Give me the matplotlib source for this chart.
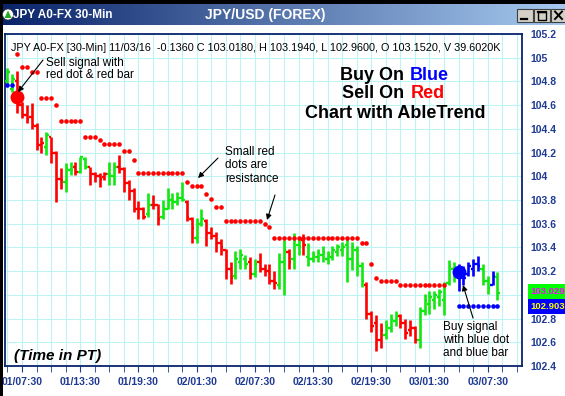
import numpy as np
import matplotlib
matplotlib.use('Agg')
import matplotlib.pyplot as plt
from matplotlib.patches import Rectangle, Circle, Polygon

plt.rcParams['font.family'] = ['Liberation Sans', 'DejaVu Sans']

W, H = 565, 396
nan = np.nan

#*---------- ----------
#*    bar data (30-min bars, JPY A0-FX)
#*---------- ----------
highs = [104.91, 104.86, 104.89, 104.63, 104.60, 104.62, 104.45, 104.33, 104.37, 104.33,
         104.21, 104.07, 104.11, 104.12, 104.12, 104.16, 104.16, 104.08, 104.04, 104.03,
         104.04, 104.12, 104.12, 104.18, 104.08, 103.97, 103.90, 103.79, 103.74, 103.86,
         103.84, 103.77, 103.80, 103.90, 103.86, 103.87, 103.95, 103.80, 103.66, 103.65,
         103.72, 103.64, 103.57, 103.53, 103.47, 103.39, 103.28, 103.37, 103.39, 103.34,
         103.32, 103.30, 103.35, 103.26, 103.26, 103.20, 103.35, 103.46, 103.39, 103.52,
         103.47, 103.51, 103.44, 103.37, 103.39, 103.41, 103.37, 103.41, 103.43, 103.45,
         103.47, 103.45, 103.41, 103.28, 103.11, 102.86, 102.83, 102.76, 102.79, 102.84,
         102.86, 102.84, 102.80, 102.79, 102.74, 102.90, 103.01, 103.03, 103.03, 103.05,
         103.11, 103.29, 103.28, 103.26, 103.24, 103.28, 103.30, 103.33, 103.26, 103.16,
         103.20, 103.194]
lows = [104.78, 104.71, 104.53, 104.49, 104.45, 104.40, 104.22, 104.20, 104.18, 104.11,
        103.78, 103.89, 103.87, 104.01, 104.01, 104.03, 104.06, 103.93, 103.95, 103.91,
        103.97, 103.93, 103.93, 104.03, 103.87, 103.80, 103.70, 103.64, 103.64, 103.66,
        103.72, 103.59, 103.64, 103.72, 103.72, 103.76, 103.79, 103.62, 103.44, 103.44,
        103.58, 103.41, 103.47, 103.36, 103.34, 103.13, 103.09, 103.13, 103.22, 103.22,
        103.13, 103.15, 103.19, 103.16, 103.09, 103.05, 103.05, 103.00, 103.22, 103.22,
        103.34, 103.34, 103.24, 103.28, 103.28, 103.28, 103.26, 103.29, 103.33, 103.33,
        103.11, 103.21, 103.16, 103.07, 102.80, 102.69, 102.53, 102.55, 102.63, 102.69,
        102.74, 102.72, 102.63, 102.65, 102.59, 102.55, 102.83, 102.84, 102.88, 102.91,
        102.83, 103.08, 103.11, 103.03, 103.08, 103.16, 103.16, 103.20, 103.08, 103.01,
        103.08, 102.960]
opens = [104.80, 104.74, 104.80, 104.60, 104.52, 104.50, 104.42, 104.26, 104.25, 104.33,
         104.20, 103.98, 103.95, 104.05, 104.08, 104.04, 104.15, 104.08, 104.02, 104.00,
         103.99, 104.02, 104.00, 104.08, 104.06, 103.94, 103.88, 103.72, 103.72, 103.68,
         103.76, 103.76, 103.66, 103.72, 103.80, 103.78, 103.82, 103.78, 103.64, 103.48,
         103.60, 103.62, 103.52, 103.50, 103.44, 103.38, 103.22, 103.16, 103.28, 103.30,
         103.28, 103.18, 103.28, 103.22, 103.20, 103.12, 103.08, 103.28, 103.36, 103.30,
         103.42, 103.46, 103.32, 103.30, 103.32, 103.34, 103.30, 103.32, 103.36, 103.38,
         103.42, 103.30, 103.38, 103.24, 103.08, 102.84, 102.76, 102.62, 102.66, 102.72,
         102.78, 102.82, 102.76, 102.70, 102.72, 102.62, 102.86, 102.92, 102.96, 102.98,
         102.96, 103.10, 103.22, 103.18, 103.20, 103.18, 103.22, 103.26, 103.22, 103.12,
         103.08, 103.152]
closes = [104.88, 104.82, 104.60, 104.52, 104.48, 104.43, 104.26, 104.28, 104.35, 104.20,
          103.98, 103.97, 104.07, 104.05, 104.04, 104.16, 104.08, 104.02, 104.00, 103.98,
          104.02, 104.00, 104.08, 104.06, 103.94, 103.88, 103.72, 103.72, 103.66, 103.76,
          103.76, 103.64, 103.72, 103.80, 103.78, 103.82, 103.80, 103.66, 103.56, 103.60,
          103.64, 103.52, 103.50, 103.44, 103.40, 103.22, 103.14, 103.30, 103.34, 103.26,
          103.18, 103.26, 103.22, 103.20, 103.12, 103.10, 103.28, 103.38, 103.28, 103.46,
          103.40, 103.42, 103.30, 103.34, 103.35, 103.36, 103.33, 103.38, 103.40, 103.40,
          103.30, 103.40, 103.26, 103.12, 102.84, 102.74, 102.62, 102.70, 102.74, 102.80,
          102.82, 102.76, 102.68, 102.72, 102.62, 102.86, 102.96, 102.98, 103.00, 103.02,
          103.08, 103.24, 103.18, 103.20, 103.14, 103.24, 103.26, 103.24, 103.12, 103.06,
          103.16, 103.018]
# AbleTrend bar colour: G green, R red, B blue
bar_color = ("GGRRRRRRGR" "RRGGRGGRRR" "RGGRRRRRRG" "RRGGGGGRRG" "GRRRRRRGGG"
             "RGRRRRGGRG" "GRGGGGGGGG" "GGGGRRRRGG" "GRRRRGGGGG" "GGGBBBBBGG" "BG")

# small red dots (resistance) and small blue dots (support), per bar
resist = [nan, nan, 105.03, 104.92, 104.92, 104.88, 104.88, 104.66, 104.66, 104.66,
          104.60, 104.47, 104.47, 104.47, 104.47, 104.47, 104.33, 104.33, 104.33, 104.31,
          104.27, 104.27, 104.27, 104.27, 104.21, 104.21, 104.14, 104.03, 104.03, 104.03,
          104.03, 104.03, 104.03, 104.03, 104.03, 104.03, 104.03, 103.95, 103.92, 103.92,
          103.92, 103.85, 103.81, 103.74, 103.74, 103.62, 103.62, 103.62, 103.62, 103.62,
          103.62, 103.62, 103.62, 103.60, 103.57, 103.48, 103.48, 103.48, 103.48, 103.48,
          103.48, 103.48, 103.48, 103.48, 103.48, 103.48, 103.48, 103.48, 103.48, 103.48,
          103.48, 103.48, 103.48, 103.44, 103.44, 103.26, 103.14, 103.12, 103.12, 103.12,
          103.12, 103.08, 103.08, 103.08, 103.08, 103.08, 103.08, 103.08, 103.08, 103.08,
          103.08, nan, nan, nan, nan, nan, nan, nan, nan, nan,
          nan, nan]
support = [104.77, 104.77] + [nan] * 91 + [102.91] * 9

sell_bar, sell_px = 2, 104.67
buy_bar, buy_px = 93, 103.19

tick_pos = [3, 15, 27, 39, 51, 63, 75, 87, 99]
tick_lab = ['01/07:30', '01/13:30', '01/19:30', '02/01:30', '02/07:30',
            '02/13:30', '02/19:30', '03/01:30', '03/07:30']
y_ticks = [105.2, 105.0, 104.8, 104.6, 104.4, 104.2, 104.0, 103.8, 103.6,
           103.4, 103.2, 102.8, 102.6, 102.4]
y_labs = ['105.2', '105', '104.8', '104.6', '104.4', '104.2', '104', '103.8', '103.6',
          '103.4', '103.2', '102.8', '102.6', '102.4']
last_close, last_stop = 103.029, 102.903

navy = '#1F3A93'
cmap = {'G': '#11E811', 'R': '#FF0000', 'B': '#0000FF'}

fig = plt.figure(figsize=(W / 100, H / 100), dpi=100)
fig.patch.set_facecolor('white')
ax = fig.add_axes([5 / W, 1 - 366 / H, (521.7 - 5) / W, (366 - 34) / H])

idx = np.arange(len(highs))
cols = [cmap[c] for c in bar_color]
ax.vlines(idx, lows, highs, colors=cols, lw=1.9, zorder=3)
ax.hlines(opens, idx - 0.5, idx, colors=cols, lw=1.7, zorder=3)
ax.hlines(closes, idx, idx + 0.5, colors=cols, lw=1.7, zorder=3)
ax.plot(idx, resist, 'o', color='#FF0000', ms=3.3, mec='none', zorder=4)
ax.plot(idx, support, 'o', color='#0000FF', ms=3.3, mec='none', zorder=4)
ax.plot(sell_bar, sell_px, 'o', color='#FF0000', ms=10, mec='none', zorder=5)
ax.plot(buy_bar, buy_px, 'o', color='#0000FF', ms=10, mec='none', zorder=5)

ax.set_xlim(-0.515, 106.02)
ax.set_ylim(102.416, 105.194)
ax.set_xticks(tick_pos)
ax.set_xticklabels(tick_lab)
ax.set_xticks(np.arange(0, 106, 3), minor=True)
ax.yaxis.tick_right()
ax.set_yticks(y_ticks)
ax.set_yticklabels(y_labs)
ax.set_yticks([103.0], minor=True)
ax.tick_params(axis='y', which='both', length=0, pad=6.5, labelsize=7.5, labelcolor=navy)
ax.tick_params(axis='x', which='both', direction='out', length=4, color=navy,
               pad=4, labelsize=7.5, labelcolor=navy)
for t in ax.get_xticklabels() + ax.get_yticklabels():
    t.set_fontweight('bold')
ax.grid(True, which='both', color='#BDF3F3', lw=0.8, zorder=0)
ax.set_axisbelow(True)
for s in ax.spines.values():
    s.set_color('#0A246A')
    s.set_linewidth(1.3)

# last value boxes on the price scale
ax.text(1.017, last_close, '%.3f' % last_close, transform=ax.get_yaxis_transform(),
        va='center', ha='left', fontsize=6.8, fontweight='bold', color='#FF00FF',
        bbox=dict(boxstyle='square,pad=0.3', fc='#00FF00', ec='none'), clip_on=False, zorder=10)
ax.text(1.017, last_stop, '%.3f' % last_stop, transform=ax.get_yaxis_transform(),
        va='center', ha='left', fontsize=6.8, fontweight='bold', color='#FFFF00',
        bbox=dict(boxstyle='square,pad=0.3', fc='#0000FF', ec='none'), clip_on=False, zorder=10)

#*---------- ----------
#*    overlay in pixel coords: window frame and notes
#*---------- ----------
ov = fig.add_axes([0, 0, 1, 1], zorder=20)
ov.axis('off')
grad = np.linspace(0, 1, 256)[None, :, None]
c0 = np.array([10, 36, 106]) / 255.
c1 = np.array([166, 202, 240]) / 255.
ov.imshow(c0 + (c1 - c0) * grad, extent=[3, W, 25, 3], aspect='auto')
ov.add_patch(Rectangle((0, 0), W, 3.5, fc='black', ec='none'))
ov.add_patch(Rectangle((0, 0), 3, H, fc='black', ec='none'))
ov.add_patch(Circle((8, 14.5), 5.5, fc='white', ec='#333333', lw=0.5))
ov.add_patch(Polygon([[4.5, 18], [8, 10.5], [11.5, 18]], fc='#22AA22', ec='none'))
ov.text(13, 15, 'JPY A0-FX 30-Min', color='white', fontsize=8.5, fontweight='bold', va='center')
ov.text(265, 14.5, 'JPY/USD (FOREX)', color='white', fontsize=10, fontweight='bold',
        va='center', ha='center')
for bx in [517, 534, 551]:
    ov.add_patch(Rectangle((bx, 8.5), 15.5, 13.5, fc='#D4D0C8', ec='#404040', lw=0.8))
ov.plot([521, 527], [19, 19], color='black', lw=1.6)
ov.add_patch(Rectangle((538, 11.5), 8, 8, fc='none', ec='black', lw=1.0))
ov.plot([538, 546], [12, 12], color='black', lw=1.6)
ov.plot([555, 562], [11.5, 19], color='black', lw=1.4)
ov.plot([555, 562], [19, 11.5], color='black', lw=1.4)

ov.text(11, 48, 'JPY A0-FX [30-Min] 11/03/16  -0.1360 C 103.0180, H 103.1940, '
        'L 102.9600, O 103.1520, V 39.6020K', fontsize=7.8, va='center', color='black')

ov.text(46, 57, 'Sell signal with\nred dot & red bar', fontsize=8.5, va='top', linespacing=1.05)
ov.text(225, 146, 'Small red\ndots are\nresistance', fontsize=8.5, va='top', linespacing=1.15)
ov.text(443, 321, 'Buy signal\nwith blue dot\nand blue bar', fontsize=8.5, va='top', linespacing=1.1)

arw = dict(arrowstyle='-|>', color='black', lw=0.8, mutation_scale=8, shrinkA=0, shrinkB=0)
ov.annotate('', xy=(18, 92), xytext=(43, 60), arrowprops=arw)
ov.annotate('', xy=(198, 178), xytext=(218, 158), arrowprops=arw)
ov.annotate('', xy=(267, 220), xytext=(275, 195), arrowprops=arw)
ov.annotate('', xy=(463, 285), xytext=(473, 318), arrowprops=arw)

ov.text(404, 76, 'Buy On', fontsize=13, fontweight='bold', ha='right', va='center')
ov.text(410, 76, 'Blue', fontsize=13, fontweight='bold', ha='left', va='center', color='#0000FF')
ov.text(404, 94, 'Sell On', fontsize=13, fontweight='bold', ha='right', va='center')
ov.text(411, 94, 'Red', fontsize=13, fontweight='bold', ha='left', va='center', color='#FF0000')
ov.text(395, 113, 'Chart with AbleTrend', fontsize=13, fontweight='bold', ha='center', va='center')
ov.text(14, 356, '(Time in PT)', fontsize=11, fontweight='bold', style='italic', va='center')

ov.set_xlim(0, W)
ov.set_ylim(H, 0)

fig.savefig('out.png', dpi=100)
